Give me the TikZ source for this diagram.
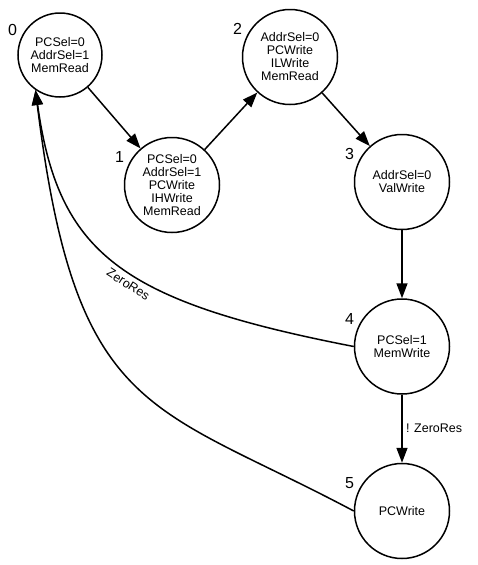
\documentclass[tikz,border=0pt]{standalone}
\usepackage{fontspec}
\setmainfont{Liberation Sans}
\usepackage{tikz}
\usetikzlibrary{positioning, arrows.meta}

\begin{document}
\begin{tikzpicture}[
    x=1pt, y=1pt,
    node distance=68pt,
    state/.style={draw, circle, line width=1.5pt, minimum size=95pt,
      inner sep=0pt, align=center, font=\fontsize{12.5}{13}\selectfont},
    num/.style={font=\fontsize{16}{16}\selectfont, inner sep=1pt, label distance=3pt},
    arr/.style={-{Triangle[length=15pt,width=11pt]}, line width=1.5pt},
    cond/.style={font=\fontsize{12.5}{13}\selectfont}
  ]
    \useasboundingbox (0,0) rectangle (478,-565);
    \node[state, minimum size=84pt, label={[num]156:0}] (s0) at (60,-55) {PCSel=0\\AddrSel=1\\MemRead};
    \node[state, label={[num]156:1}] (s1) at (172,-185) {PCSel=0\\AddrSel=1\\PCWrite\\IHWrite\\MemRead};
    \node[state, label={[num]156:2}] (s2) at (290,-57) {AddrSel=0\\PCWrite\\ILWrite\\MemRead};
    \node[state, label={[num]156:3}] (s3) at (402,-182) {AddrSel=0\\ValWrite};
    \node[state, below=of s3, label={[num]156:4}] (s4) {PCSel=1\\MemWrite};
    \node[state, below=of s4, label={[num]156:5}] (s5) {PCWrite};
    \draw[arr] (s0) -- (s1);
    \draw[arr] (s1) -- (s2);
    \draw[arr] (s2) -- (s3);
    \draw[arr] (s3) -- (s4);
    \draw[arr] (s4) -- node[right, cond] {! ZeroRes} (s5);
    % back edges to state 0
    \draw[arr] (s4.west) to[out=169, in=-82, out distance=238pt, in distance=165pt]
      node[sloped, pos=0.44, below=2pt, cond] {ZeroRes} (s0.235);
    \draw[arr] (s5.west) to[out=152, in=-83, out distance=230pt, in distance=330pt] (s0.235);
  \end{tikzpicture}
\end{document}
